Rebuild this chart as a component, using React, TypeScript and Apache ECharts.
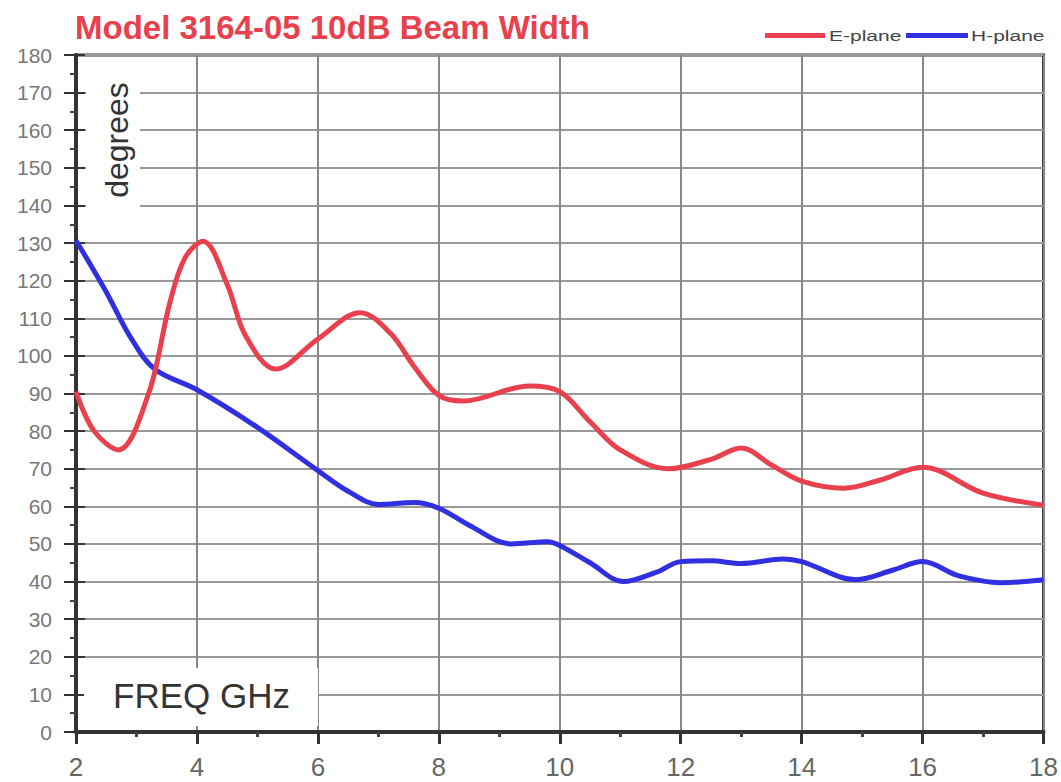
import React, { useEffect, useRef } from "react";
import * as echarts from "echarts";

const TITLE = "Model 3164-05 10dB Beam Width";
const SERIES_NAMES = ["E-plane", "H-plane"];
const Y_NAME = "degrees";
const X_NAME = "FREQ GHz";

const E_FREQ = [2, 2.3, 2.7, 3.2, 3.55, 3.8, 4.1, 4.5, 4.8, 5.3, 6, 6.7, 7.2, 7.6, 8, 8.4, 9.5, 10, 10.5, 11, 11.8, 12.5, 13, 13.5, 14, 14.7, 15.3, 16, 17, 18];
const E_DEG = [90.5, 80, 75, 90, 114, 126, 130.5, 119, 105.5, 96.5, 104.5, 111.5, 106, 97, 89.5, 88, 92, 90.5, 82.5, 75, 70, 72.5, 75.5, 71, 66.7, 64.8, 67, 70.4, 63.5, 60.3];

const H_FREQ = [2, 2.5, 2.9, 3.3, 4, 5, 6, 6.5, 7, 7.6, 8, 8.5, 9.2, 9.8, 10, 10.5, 11.05, 11.6, 12, 12.5, 13, 13.7, 14, 14.9, 15.5, 16, 16.6, 17.3, 18];
const H_DEG = [130.7, 117, 105, 96.5, 91, 81, 69.5, 64, 60.5, 61, 59.5, 55, 50, 50.6, 49.6, 45, 40, 42.5, 45.3, 45.5, 44.8, 46, 45.3, 40.5, 43, 45.3, 41.5, 39.7, 40.5];

const RED = "#e8404c";
const BLUE = "#3030e0";

export default function App() {
  const ref = useRef<HTMLDivElement>(null);
  useEffect(() => {
    if (!ref.current) return;
    const chart = echarts.init(ref.current, undefined, { renderer: "svg" });
    const eData = E_FREQ.map((f, i) => [f, E_DEG[i]]);
    const hData = H_FREQ.map((f, i) => [f, H_DEG[i]]);
    chart.setOption({
      animation: false,
      backgroundColor: "#ffffff",
      grid: {
        left: 76,
        right: 12,
        top: 55,
        bottom: 50,
        show: true,
        borderColor: "#333",
        borderWidth: 3,
      },
      xAxis: {
        type: "value",
        min: 2,
        max: 18,
        interval: 2,
        axisLine: { lineStyle: { color: "#333", width: 4 } },
        axisTick: { show: true, length: 12, lineStyle: { color: "#333", width: 3 } },
        minorTick: { show: true, splitNumber: 2, length: 5, lineStyle: { color: "#444", width: 3 } },
        splitLine: { show: true, lineStyle: { color: "#888", width: 2 } },
        axisLabel: { fontSize: 26, color: "#666", margin: 22, fontFamily: "Liberation Sans" },
      },
      yAxis: [
        {
          type: "value",
          min: 0,
          max: 180,
          interval: 10,
          axisLine: { show: true, lineStyle: { color: "#333", width: 4 } },
          axisTick: { show: true, length: 12, lineStyle: { color: "#333", width: 2 } },
          minorTick: { show: true, splitNumber: 2, length: 6, lineStyle: { color: "#444", width: 2 } },
          splitLine: { show: true, lineStyle: { color: "#999", width: 2 } },
          axisLabel: { fontSize: 21, color: "#777", margin: 24, fontFamily: "Liberation Sans" },
        },
        {
          type: "value",
          min: 0,
          max: 180,
          interval: 10,
          position: "left",
          axisLine: { show: false },
          axisTick: { show: true, inside: true, length: 9, lineStyle: { color: "#333", width: 2 } },
          splitLine: { show: false },
          axisLabel: { show: false },
        },
      ],
      series: [
        {
          name: SERIES_NAMES[0],
          type: "line",
          data: eData,
          smooth: 0.35,
          showSymbol: false,
          lineStyle: { color: RED, width: 5 },
          itemStyle: { color: RED },
          z: 5,
        },
        {
          name: SERIES_NAMES[1],
          type: "line",
          data: hData,
          smooth: 0.35,
          showSymbol: false,
          lineStyle: { color: BLUE, width: 5 },
          itemStyle: { color: BLUE },
          z: 4,
        },
      ],
      graphic: [
        {
          type: "text",
          left: 75,
          top: 11,
          style: {
            text: TITLE,
            fill: RED,
            font: "bold 33px 'Liberation Sans', Arial, sans-serif",
          },
        },
        {
          type: "rect",
          shape: { x: 765, y: 33, width: 60, height: 5 },
          style: { fill: RED },
        },
        {
          type: "text",
          x: 829,
          y: 36,
          scaleX: 1.4,
          style: {
            text: SERIES_NAMES[0],
            fill: "#444",
            font: "15px 'Liberation Sans', Arial, sans-serif",
            verticalAlign: "middle",
          },
        },
        {
          type: "rect",
          shape: { x: 906, y: 33, width: 62, height: 5 },
          style: { fill: BLUE },
        },
        {
          type: "text",
          x: 971,
          y: 36,
          scaleX: 1.4,
          style: {
            text: SERIES_NAMES[1],
            fill: "#444",
            font: "15px 'Liberation Sans', Arial, sans-serif",
            verticalAlign: "middle",
          },
        },
        {
          type: "rect",
          z: 10,
          shape: { x: 86, y: 64, width: 54, height: 160 },
          style: { fill: "#fff" },
        },
        {
          type: "text",
          z: 11,
          x: 117,
          y: 140,
          rotation: Math.PI / 2,
          style: {
            text: Y_NAME,
            fill: "#333",
            font: "32px 'Liberation Sans', Arial, sans-serif",
            align: "center",
            verticalAlign: "middle",
          },
        },
        {
          type: "rect",
          z: 10,
          shape: { x: 84, y: 668, width: 234, height: 58 },
          style: { fill: "#fff" },
        },
        {
          type: "text",
          z: 11,
          x: 113,
          y: 695,
          style: {
            text: X_NAME,
            fill: "#333",
            font: "35px 'Liberation Sans', Arial, sans-serif",
            verticalAlign: "middle",
          },
        },
      ],
    });
    return () => chart.dispose();
  }, []);
  return (
    <div
      ref={ref}
      style={{ position: "fixed", left: 0, top: 0, width: 1061, height: 782 }}
    />
  );
}
